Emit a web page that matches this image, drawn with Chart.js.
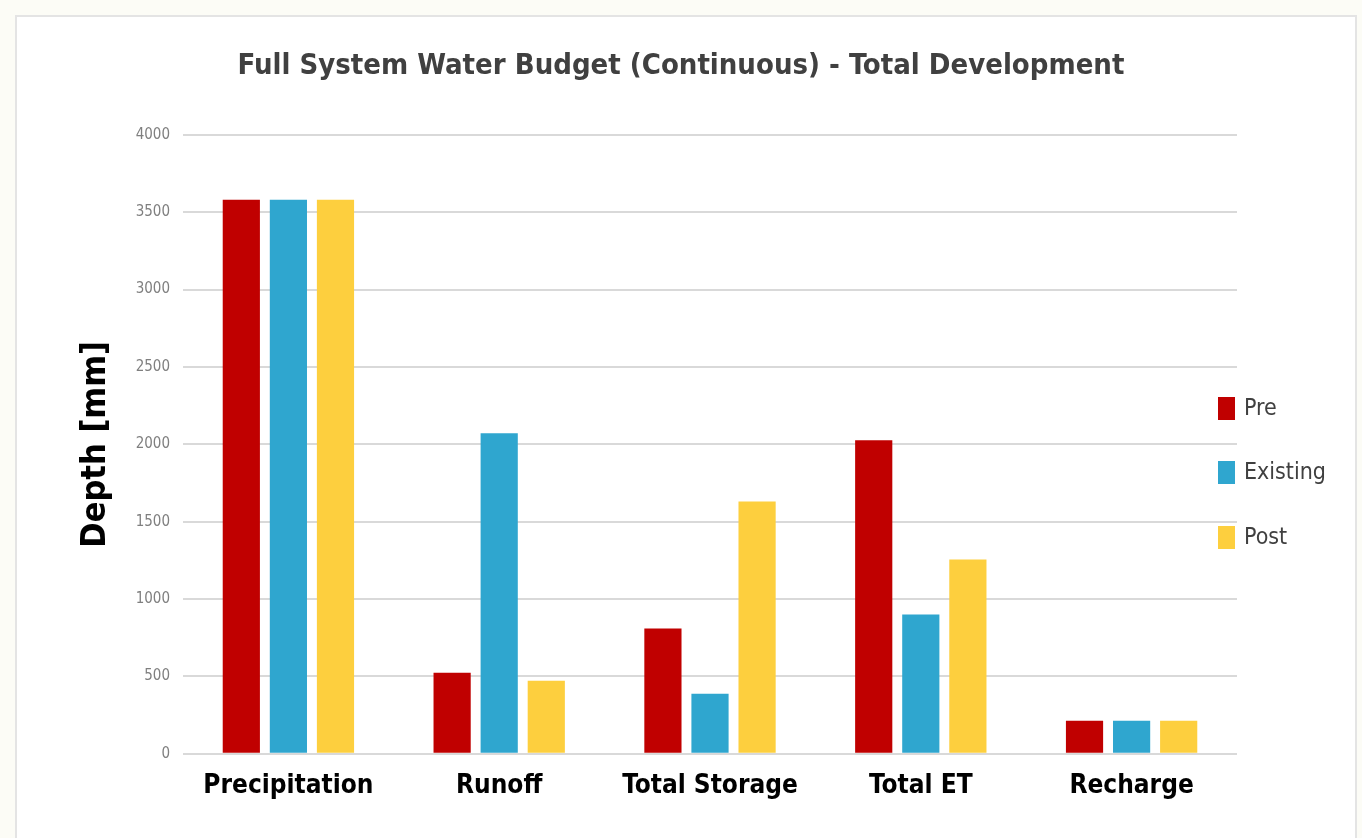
<!DOCTYPE html>
<html>
<head>
<meta charset="utf-8">
<script src="https://cdn.jsdelivr.net/npm/chart.js@4.4.1/dist/chart.umd.min.js"></script>
<style>
    html, body { margin: 0; padding: 0; background: #fcfcf6; overflow: hidden; }
    .card {
        position: absolute; left: 15px; top: 15px; width: 1342px; height: 840px;
        background: #fff; border: 2px solid #e4e4e4; box-sizing: border-box;
    }
    #chartWrap { position: absolute; left: 0; top: 0; width: 1362px; height: 838px; }
</style>
</head>
<body>
<div class="card"></div>
<div id="chartWrap"><canvas id="budgetChart"></canvas></div>
<script>
// Water budget components (mm)
const categories = ['Precipitation', 'Runoff', 'Total Storage', 'Total ET', 'Recharge'];
const preValues = [3580, 524, 810, 2026, 214];
const existingValues = [3580, 2071, 388, 900, 214];
const postValues = [3580, 472, 1631, 1256, 214];
const seriesNames = ['Pre', 'Existing', 'Post'];
const seriesColors = ['#C00000', '#2FA6CF', '#FDCF3E'];
const yTicks = [0, 500, 1000, 1500, 2000, 2500, 3000, 3500, 4000];

const narrowFont = "'DejaVu Sans Condensed', 'Liberation Sans Narrow', 'Liberation Sans', sans-serif";

/**
 * Draws the legend to the right of the plot, stacked vertically
 */
const sideLegend = {
    id: 'sideLegend',
    afterDraw(chart) {
        const ctx = chart.ctx;
        const x = chart.chartArea.right - 19;
        const yCenters = [408, 472, 537];
        ctx.save();
        ctx.font = "23px " + narrowFont;
        ctx.textBaseline = 'middle';
        ctx.textAlign = 'left';
        chart.data.datasets.forEach((ds, i) => {
            ctx.fillStyle = ds.backgroundColor;
            ctx.fillRect(x, yCenters[i] - 11, 17, 23);
            ctx.fillStyle = '#404040';
            ctx.fillText(ds.label, x + 26, yCenters[i] + 1);
        });
        ctx.restore();
    }
};

const datasetValues = [preValues, existingValues, postValues];

new Chart(document.getElementById('budgetChart'), {
    type: 'bar',
    data: {
        labels: categories,
        datasets: seriesNames.map((name, i) => ({
            label: name,
            data: datasetValues[i],
            backgroundColor: seriesColors[i],
            categoryPercentage: 0.67,
            barPercentage: 0.79
        }))
    },
    plugins: [sideLegend],
    options: {
        responsive: true,
        maintainAspectRatio: false,
        animation: false,
        layout: { padding: { left: 0, right: 0, top: 0, bottom: 27 } },
        plugins: {
            legend: { display: false },
            tooltip: { enabled: false },
            title: {
                display: true,
                text: 'Full System Water Budget (Continuous) - Total Development',
                color: '#404040',
                font: { family: narrowFont, size: 29, weight: 'bold' },
                padding: { top: 49, bottom: 51 }
            }
        },
        scales: {
            x: {
                grid: { display: false },
                border: { display: false },
                ticks: {
                    color: '#000',
                    padding: 9,
                    autoSkip: false,
                    maxRotation: 0,
                    minRotation: 0,
                    font: { family: narrowFont, size: 26, weight: 'bold' }
                }
            },
            y: {
                min: 0,
                max: 4000,
                afterFit: scale => { scale.width = 183; },
                afterBuildTicks: scale => { scale.ticks = yTicks.map(v => ({ value: v })); },
                grid: { color: '#d9d9d9', lineWidth: 2, drawTicks: false },
                border: { display: false },
                ticks: {
                    color: '#7f7f7f',
                    padding: 13,
                    callback: v => String(v),
                    font: { family: narrowFont, size: 15 }
                },
                title: {
                    display: true,
                    text: 'Depth [mm]',
                    color: '#000',
                    font: { family: narrowFont, size: 34, weight: 'bold' },
                    padding: { top: 76, bottom: 0 }
                }
            },
            // empty right-hand space kept for the legend
            legendSpace: {
                position: 'right',
                display: true,
                afterFit: scale => { scale.width = 125; },
                grid: { display: false, drawTicks: false },
                border: { display: false },
                ticks: { display: false }
            }
        }
    }
});
</script>
</body>
</html>
